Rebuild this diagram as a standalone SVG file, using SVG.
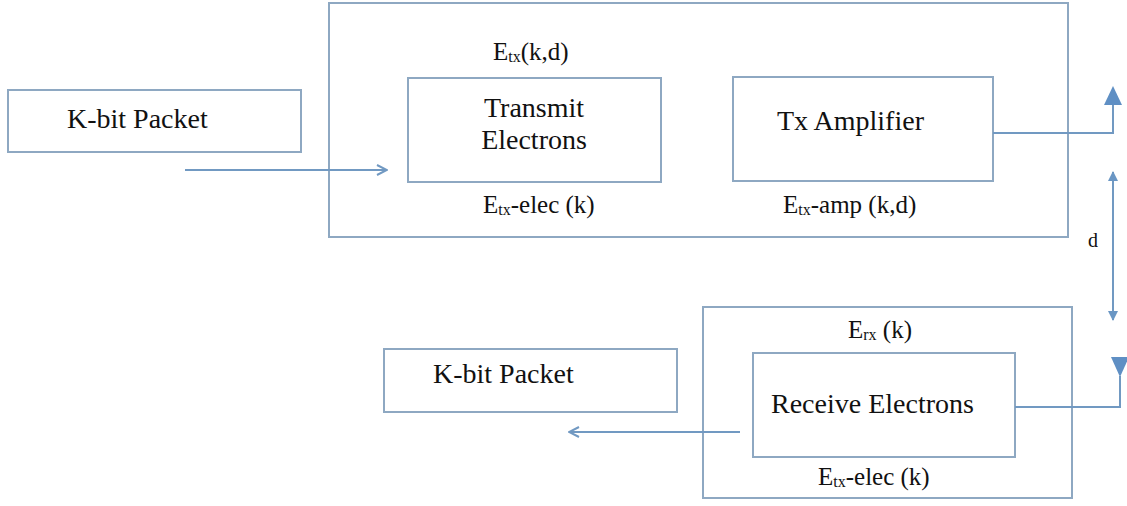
<svg xmlns="http://www.w3.org/2000/svg" width="1127" height="506" viewBox="0 0 1127 506">
<style>
  .box { fill: none; stroke: #8ea8c2; stroke-width: 2; }
  .conn { fill: none; stroke: #7199c2; stroke-width: 2; }
  .tri { fill: #5f8fc4; stroke: none; }
</style>
<defs>
  <marker id="chev" viewBox="0 0 12 12" refX="11" refY="6" markerWidth="12" markerHeight="12" markerUnits="userSpaceOnUse" orient="auto">
    <path d="M1,1 L11,6 L1,11" fill="none" stroke="#7199c2" stroke-width="2"/>
  </marker>
  <marker id="small" viewBox="0 0 10 10" refX="9" refY="5" markerWidth="10" markerHeight="10" markerUnits="userSpaceOnUse" orient="auto">
    <path d="M0,0 L10,5 L0,10 Z" fill="#6a96c4"/>
  </marker>
</defs>
<rect width="1127" height="506" fill="#ffffff"/>

<g id="transmitter">
  <rect class="box" x="329" y="3" width="739" height="234"/>
  <text style="font-family:'Liberation Serif',serif" font-size="25" fill="#111" x="493" y="60">E<tspan font-size="16" dy="2">tx</tspan><tspan dy="-2">(k,d)</tspan></text>
  <text style="font-family:'Liberation Serif',serif" font-size="25" fill="#111" x="483" y="213">E<tspan font-size="16" dy="2">tx</tspan><tspan dy="-2">-elec (k)</tspan></text>
  <text style="font-family:'Liberation Serif',serif" font-size="25" fill="#111" x="783" y="213">E<tspan font-size="16" dy="2">tx</tspan><tspan dy="-2">-amp (k,d)</tspan></text>
</g>
<g id="kbit-in">
  <rect class="box" x="8" y="90" width="293" height="62"/>
  <text style="font-family:'Liberation Serif',serif" font-size="28" fill="#111" x="67" y="128">K-bit Packet</text>
</g>
<g id="transmit-electrons">
  <rect class="box" x="408" y="78" width="253" height="104"/>
  <text style="font-family:'Liberation Serif',serif" font-size="28" fill="#111" x="534" y="117" text-anchor="middle">Transmit</text>
  <text style="font-family:'Liberation Serif',serif" font-size="28" fill="#111" x="534" y="149" text-anchor="middle">Electrons</text>
</g>
<g id="tx-amplifier">
  <rect class="box" x="733" y="77" width="260" height="104"/>
  <text style="font-family:'Liberation Serif',serif" font-size="28" fill="#111" x="777" y="130">Tx Amplifier</text>
</g>
<g id="receiver">
  <rect class="box" x="703" y="307" width="369" height="191"/>
  <text style="font-family:'Liberation Serif',serif" font-size="25" fill="#111" x="848" y="338">E<tspan font-size="16" dy="2">rx</tspan><tspan dy="-2"> (k)</tspan></text>
  <text style="font-family:'Liberation Serif',serif" font-size="25" fill="#111" x="818" y="485">E<tspan font-size="16" dy="2">tx</tspan><tspan dy="-2">-elec (k)</tspan></text>
</g>
<g id="receive-electrons">
  <rect class="box" x="753" y="353" width="262" height="104"/>
  <text style="font-family:'Liberation Serif',serif" font-size="28" fill="#111" x="771" y="413">Receive Electrons</text>
</g>
<g id="kbit-out">
  <rect class="box" x="384" y="349" width="293" height="63"/>
  <text style="font-family:'Liberation Serif',serif" font-size="28" fill="#111" x="433" y="383">K-bit Packet</text>
</g>
<g id="distance">
  <text style="font-family:'Liberation Serif',serif" font-size="20" fill="#111" x="1088" y="247">d</text>
</g>

<g id="connectors">
  <line class="conn" x1="185" y1="170" x2="387" y2="170" marker-end="url(#chev)"/>
  <line class="conn" x1="740" y1="432" x2="569" y2="432" marker-end="url(#chev)"/>
  <polyline class="conn" points="993,133 1113,133 1113,104"/>
  <polygon class="tri" points="1104,105 1122,105 1113,86"/>
  <polyline class="conn" points="1015,407 1120,407 1120,376"/>
  <polygon class="tri" points="1111,357 1129,357 1120,377"/>
  <line class="conn" x1="1113" y1="246" x2="1113" y2="172" marker-end="url(#small)"/>
  <line class="conn" x1="1113" y1="246" x2="1113" y2="320" marker-end="url(#small)"/>
</g>
</svg>
